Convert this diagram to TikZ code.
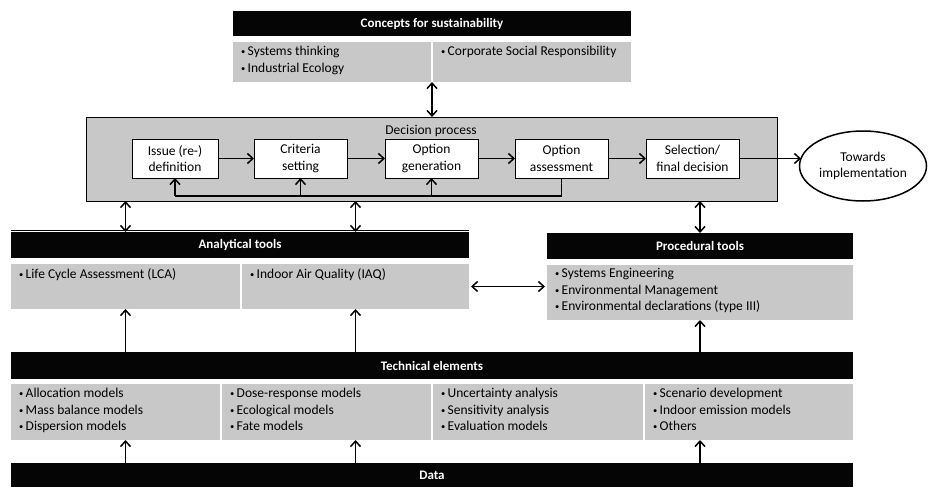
\documentclass[tikz,border=0pt]{standalone}
\usepackage{fontspec}
\setmainfont{Carlito}
\usetikzlibrary{arrows.meta,shapes.geometric,calc}
\definecolor{panel}{RGB}{200,200,200}
\definecolor{barblack}{RGB}{5,5,5}
% small list bullet
\newcommand\bul{{\fontsize{8.5}{8.5}\selectfont\raisebox{1.2pt}{•}}\hspace{2.5pt}}

\begin{document}
\begin{tikzpicture}[x=1pt,y=-1pt,
  every node/.style={inner sep=0pt, outer sep=0pt},
  txt/.style={font=\fontsize{13.5}{16.5}\selectfont},
  bar/.style={fill=barblack, anchor=north west, text=white,
    font=\fontsize{13}{16}\selectfont\bfseries},
  panelbox/.style={fill=panel, anchor=north west},
  items/.style={txt, align=left, anchor=north west},
  stepbox/.style={draw=black, line width=0.8pt, fill=white,
    minimum height=39pt, align=center, txt},
  tip/.tip={Straight Barb[length=5.5pt,width=10pt]},
  link/.style={line width=1.5pt, -tip},
  both/.style={line width=1.5pt, tip-tip},
]
\useasboundingbox (0,0) rectangle (928,487);

% ---- Concepts for sustainability
\node[bar, minimum width=398pt, minimum height=25pt] (concepts) at (233,11) {Concepts for sustainability};
\node[panelbox, minimum width=198pt, minimum height=40pt] (cst) at (233,42) {};
\node[panelbox, minimum width=198pt, minimum height=40pt] (csr) at (433,42) {};
\node[items] (cst-t) at ([xshift=8pt,yshift=-4.5pt]cst.north west) {\bul Systems thinking\\\bul Industrial Ecology};
\node[items] (csr-t) at ([xshift=8pt,yshift=-4.5pt]csr.north west) {\bul Corporate Social Responsibility};

% ---- Decision process
\node[draw=black, line width=0.8pt, fill=panel, anchor=north west,
      minimum width=691pt, minimum height=84pt] (decision) at (86,117) {};
\node[txt, anchor=base] (decision-label) at (431,134) {Decision process};

\node[stepbox, minimum width=86pt] (s1) at (175,158.5) {Issue (re-)\\definition};
\node[stepbox, minimum width=93pt] (s2) at (300.5,158.5) {Criteria\\setting};
\node[stepbox, minimum width=93pt] (s3) at (431.5,158.5) {Option\\generation};
\node[stepbox, minimum width=93pt] (s4) at (561.5,158.5) {Option\\assessment};
\node[stepbox, minimum width=93pt] (s5) at (692.5,158.5) {Selection/\\final decision};
\node[draw=black, ellipse, line width=1.5pt, minimum width=127pt, minimum height=70pt,
      txt, align=center] (impl) at (863,166) {Towards\\implementation};

\draw[link] (s1) -- (s2);
\draw[link] (s2) -- (s3);
\draw[link] (s3) -- (s4);
\draw[link] (s4) -- (s5);
\draw[link] (s5) -- ([xshift=1.5pt]s5.east -| impl.west);

% feedback loop from the assessment step
\coordinate (fb) at (0,196);
\draw[line width=1.8pt] (s4.south) |- (s1.south |- fb);
\draw[link] (s1.south |- fb) -- (s1.south);
\draw[link] (s2.south |- fb) -- (s2.south);
\draw[link] (s3.south |- fb) -- (s3.south);

\draw[both] ([xshift=1pt]cst.south east) -- ([xshift=1pt]cst.south east |- decision.north);

% ---- Analytical tools
\node[bar, minimum width=458pt, minimum height=26pt] (analytical) at (11,232) {Analytical tools};
\draw[line width=0.7pt] ([yshift=2pt]analytical.north west) -- ([yshift=2pt]analytical.north east);
\node[panelbox, minimum width=229pt, minimum height=45pt] (lca) at (11,264) {};
\node[panelbox, minimum width=227pt, minimum height=45pt] (iaq) at (242,264) {};
\node[items] (lca-t) at ([xshift=8pt,yshift=-4.5pt]lca.north west) {\bul Life Cycle Assessment (LCA)};
\node[items] (iaq-t) at ([xshift=8pt,yshift=-4.5pt]iaq.north west) {\bul Indoor Air Quality (IAQ)};

% ---- Procedural tools
\node[bar, minimum width=306pt, minimum height=26pt] (procedural) at (547,233) {Procedural tools};
\node[panelbox, minimum width=306pt, minimum height=55pt] (proc) at (547,265) {};
\node[items] (proc-t) at ([xshift=8pt,yshift=-3.5pt]proc.north west)
  {\bul Systems Engineering\\\bul Environmental Management\\\bul Environmental declarations (type III)};

\draw[both] (lca.north |- decision.south) -- (lca.north |- analytical.north);
\draw[both] (iaq.north |- decision.south) -- (iaq.north |- analytical.north);
\draw[both] (proc.north |- decision.south) -- (proc.north |- procedural.north);
\draw[both] ([xshift=2pt]iaq.east) -- ([xshift=-2pt]iaq.east -| proc.west);

% ---- Technical elements
\node[bar, minimum width=842pt, minimum height=27pt] (technical) at (11,352) {Technical elements};
\node[panelbox, minimum width=209pt, minimum height=56pt] (te1) at (11,384) {};
\node[panelbox, minimum width=209pt, minimum height=56pt] (te2) at (222,384) {};
\node[panelbox, minimum width=210pt, minimum height=56pt] (te3) at (433,384) {};
\node[panelbox, minimum width=208pt, minimum height=56pt] (te4) at (645,384) {};
\node[items] (te1-t) at ([xshift=8pt,yshift=-4.5pt]te1.north west)
  {\bul Allocation models\\\bul Mass balance models\\\bul Dispersion models};
\node[items] (te2-t) at ([xshift=8pt,yshift=-4.5pt]te2.north west)
  {\bul Dose-response models\\\bul Ecological models\\\bul Fate models};
\node[items] (te3-t) at ([xshift=8pt,yshift=-4.5pt]te3.north west)
  {\bul Uncertainty analysis\\\bul Sensitivity analysis\\\bul Evaluation models};
\node[items] (te4-t) at ([xshift=8pt,yshift=-4.5pt]te4.north west)
  {\bul Scenario development\\\bul Indoor emission models\\\bul Others};

\draw[link] (lca.south |- technical.north) -- (lca.south);
\draw[link] (iaq.south |- technical.north) -- (iaq.south);
\draw[link] (proc.south |- technical.north) -- (proc.south);

% ---- Data
\node[bar, minimum width=842pt, minimum height=24pt] (data) at (11,463) {Data};
\draw[link] (lca.south |- data.north) -- (lca.south |- te1.south);
\draw[link] (iaq.south |- data.north) -- (iaq.south |- te2.south);
\draw[link] (proc.south |- data.north) -- (proc.south |- te4.south);
\end{tikzpicture}
\end{document}
